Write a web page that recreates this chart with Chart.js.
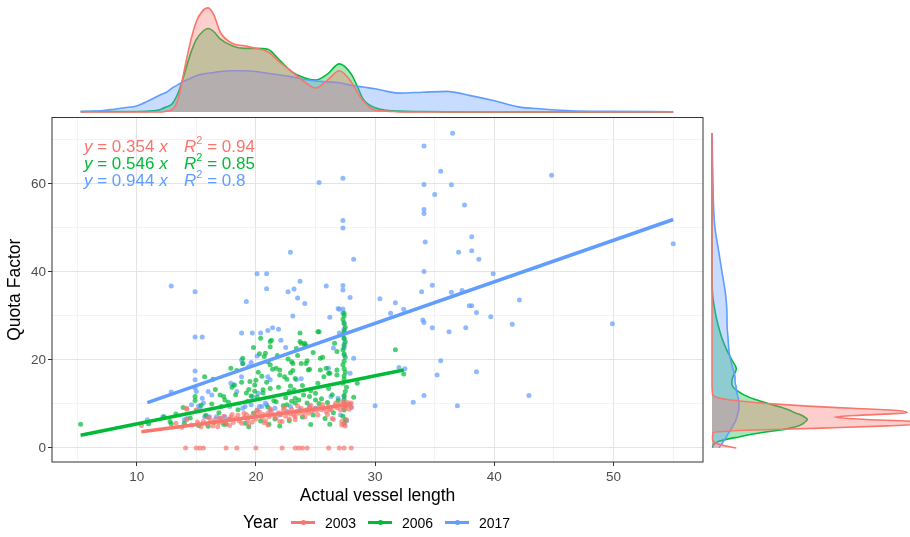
<!DOCTYPE html>
<html lang="en">
<head>
<meta charset="utf-8">
<title>Quota Factor by vessel length</title>
<script src="https://cdn.jsdelivr.net/npm/chart.js@4.4.1/dist/chart.umd.min.js"></script>
<style>
  html, body { margin: 0; padding: 0; background: #ffffff; }
  #wrap { position: relative; width: 910px; height: 537px; overflow: hidden;
          font-family: "Liberation Sans", Arial, Helvetica, sans-serif; }
  #wrap canvas { position: absolute; left: 0; top: 0; }
  .eq { position: absolute; left: 84px; height: 18px; line-height: 18px; font-size: 17px; white-space: nowrap; }
  .eq .r2 { position: absolute; left: 100px; top: 0; }
  .eq sup { font-size: 11px; line-height: 0; position: relative; top: -1px; }
  .leg { position: absolute; line-height: 20px; white-space: nowrap; color: #000; }
  .key { position: absolute; width: 24px; height: 3.5px; }
  .key span { position: absolute; left: 9.5px; top: -0.75px; width: 5px; height: 5px; border-radius: 50%; }
</style>
</head>
<body>
<div id="wrap">
  <canvas id="topDensity" width="910" height="537"></canvas>
  <canvas id="sideDensity" width="910" height="537"></canvas>
  <canvas id="scatter" width="910" height="537"></canvas>
</div>
<script>
// groups and fitted lines (through the origin)
const years = ['2003', '2006', '2017'];
const colours = ['#F8766D', '#00BA38', '#619CFF'];
const slopes = [0.354, 0.546, 0.944];
const rSquared = [0.94, 0.85, 0.8];

// axis breaks (labelled + minor)
const xLabelTicks = [10, 20, 30, 40, 50];
const xGridTicks = [5, 10, 15, 20, 25, 30, 35, 40, 45, 50, 55];
const yLabelTicks = [0, 20, 40, 60];
const yGridTicks = [0, 10, 20, 30, 40, 50, 60, 70];

// [actual vessel length, quota factor]
const points2003 = [
  [10.4, 5.1], [13.3, 5.6], [13.8, 4.7], [14.2, 6.4], [14.2, 8.8], [14.2, 9.0], [14.6, 5.2],
  [15.0, 8.5], [15.0, 8.6], [15.1, 5.9], [15.4, 4.8], [15.6, 6.0], [15.9, 5.4], [16.0, 6.9],
  [16.2, 6.3], [16.4, 5.0], [16.6, 6.6], [16.8, 4.8], [16.9, 5.7], [17.0, 6.8], [17.1, 6.1],
  [17.3, 7.2], [17.5, 5.5], [17.7, 6.4], [17.8, 5.1], [17.9, 7.0], [18.0, 7.6], [18.1, 5.8],
  [18.3, 6.7], [18.5, 7.4], [18.6, 6.1], [18.8, 5.6], [19.0, 6.9], [19.0, 7.9], [19.2, 7.6],
  [19.3, 6.3], [19.4, 5.3], [19.5, 7.1], [19.7, 5.9], [19.9, 7.8], [20.0, 6.6], [20.1, 8.5],
  [20.2, 7.3], [20.3, 8.2], [20.5, 6.9], [20.6, 7.6], [20.7, 5.7], [20.8, 6.2], [21.0, 7.9],
  [21.0, 5.2], [21.1, 7.1], [21.2, 8.9], [21.3, 8.4], [21.5, 7.4], [21.7, 6.8], [21.9, 8.0],
  [22.0, 6.0], [22.1, 7.6], [22.2, 6.0], [22.3, 8.6], [22.4, 9.2], [22.5, 7.2], [22.7, 8.1],
  [22.8, 6.6], [22.9, 7.7], [23.0, 8.8], [23.2, 7.4], [23.3, 7.1], [23.3, 6.4], [23.4, 8.3],
  [23.5, 9.5], [23.6, 7.9], [23.8, 9.0], [24.0, 8.0], [24.1, 7.0], [24.2, 8.6], [24.4, 7.9],
  [24.5, 9.1], [24.6, 9.7], [24.7, 8.3], [24.9, 8.9], [25.1, 8.5], [25.2, 7.5], [25.3, 9.3],
  [25.5, 8.7], [25.6, 9.8], [25.7, 9.0], [25.9, 8.2], [26.0, 7.6], [26.1, 9.4], [26.2, 8.6],
  [26.3, 8.8], [26.4, 6.7], [26.5, 6.5], [26.6, 9.6], [26.7, 10.2], [26.8, 9.1], [27.0, 9.8],
  [27.1, 8.6], [27.2, 6.0], [27.2, 5.2], [27.3, 9.4], [27.3, 10.5], [27.4, 10.1], [27.4, 5.4],
  [27.5, 9.0], [27.5, 5.0], [27.6, 9.7], [27.6, 6.4], [27.7, 10.3], [27.8, 8.8], [27.9, 9.9],
  [28.0, 10.2], [28.0, 9.3],
  [14.1, 0], [15.0, 0], [15.3, 0], [15.6, 0], [17.5, 0], [18.4, 0], [20.0, 0], [22.2, 0],
  [23.3, 0], [23.6, 0], [23.9, 0], [24.3, 0], [26.1, 0], [27.0, 0], [27.4, 0], [28.0, 0]
];

const points2006 = [
  [5.3, 5.4], [11.0, 5.5], [12.3, 7.1], [12.8, 6.0], [12.9, 5.5], [13.3, 7.7], [13.9, 9.2],
  [14.0, 5.6], [14.5, 6.8], [14.9, 11.7], [14.9, 10.8], [15.2, 5.1], [15.4, 9.7], [15.7, 16.2],
  [15.8, 7.4], [16.0, 4.9], [16.3, 10.0], [16.4, 15.6], [16.5, 5.8], [16.6, 13.3], [16.9, 8.0],
  [17.0, 12.0], [17.1, 9.4], [17.3, 11.7], [17.3, 5.4], [17.4, 10.9], [17.5, 5.4], [17.7, 10.4],
  [17.8, 6.5], [17.9, 18.1], [18.0, 13.8], [18.2, 14.3], [18.3, 12.1], [18.4, 17.6], [18.5, 8.7],
  [18.8, 14.9], [18.9, 20.4], [18.9, 19.2], [19.1, 5.6], [19.2, 12.5], [19.3, 10.6], [19.4, 13.3],
  [19.4, 4.8], [19.5, 15.1], [19.6, 11.8], [19.8, 7.9], [19.8, 22.8], [19.9, 12.9], [19.9, 14.3],
  [20.0, 15.4], [20.1, 11.6], [20.2, 17.2], [20.3, 21.4], [20.4, 6.1], [20.4, 24.9], [20.5, 16.3],
  [20.6, 12.5], [20.6, 13.2], [20.7, 20.8], [20.8, 21.5], [20.9, 14.9], [21.0, 19.6], [21.0, 9.3],
  [21.1, 5.4], [21.2, 18.9], [21.2, 13.5], [21.2, 23.0], [21.2, 24.2], [21.3, 24.5], [21.4, 17.9],
  [21.5, 10.7], [21.6, 6.6], [21.7, 18.1], [21.7, 10.5], [21.8, 21.0], [21.9, 13.8], [22.0, 17.7],
  [22.0, 16.6], [22.0, 5.0], [22.3, 9.6], [22.4, 16.2], [22.5, 11.4], [22.6, 15.6], [22.6, 9.8],
  [22.7, 20.2], [22.8, 12.9], [22.8, 6.2], [22.9, 17.1], [22.9, 14.1], [23.0, 10.6], [23.0, 19.6],
  [23.1, 17.6], [23.1, 19.2], [23.2, 13.2], [23.3, 15.8], [23.3, 10.2], [23.3, 11.3], [23.4, 22.6],
  [23.5, 21.0], [23.6, 10.9], [23.7, 26.1], [23.7, 24.2], [23.8, 19.2], [23.8, 23.8], [23.9, 14.2],
  [23.9, 7.0], [24.0, 12.0], [24.1, 23.8], [24.1, 23.4], [24.2, 23.2], [24.2, 19.2], [24.3, 19.8],
  [24.3, 10.2], [24.4, 17.7], [24.5, 17.9], [24.5, 11.7], [24.6, 13.0], [24.6, 5.3], [24.8, 21.7],
  [24.8, 7.5], [25.0, 12.4], [25.0, 10.9], [25.2, 26.4], [25.2, 14.7], [25.3, 26.4], [25.3, 10.1],
  [25.4, 17.7], [25.4, 20.4], [25.5, 11.2], [25.6, 20.6], [25.7, 16.2], [25.8, 6.7], [25.9, 18.1],
  [26.0, 10.3], [26.1, 13.5], [26.1, 17.0], [26.2, 17.0], [26.2, 5.4], [26.4, 12.1], [26.5, 8.0],
  [26.6, 23.8], [26.8, 21.9], [26.8, 17.7], [26.8, 16.6], [26.9, 10.8],
  [27.4, 30.6], [27.4, 30.0], [27.3, 29.2], [27.4, 28.2], [27.5, 27.4], [27.4, 26.6], [27.3, 25.7],
  [27.4, 24.9], [27.5, 24.1], [27.4, 23.2], [27.3, 22.3], [27.4, 21.4], [27.5, 20.6], [27.4, 19.7],
  [27.3, 18.9], [27.4, 18.0], [27.5, 17.2], [27.4, 16.4], [27.4, 15.6], [27.3, 14.7], [27.6, 13.8],
  [27.5, 12.8], [27.4, 11.9], [27.4, 11.0], [27.6, 9.8], [27.4, 8.6], [27.3, 7.2], [27.5, 6.4],
  [27.4, 5.5], [28.2, 11.5], [28.5, 14.7], [31.7, 22.3], [32.4, 16.8]
];

const points2017 = [
  [36.5, 71.5], [34.1, 68.6], [35.5, 62.9], [44.8, 62.0], [27.3, 61.3], [25.3, 60.3],
  [34.1, 59.9], [36.4, 59.8], [35.0, 57.6], [37.5, 55.2], [34.1, 54.2], [34.1, 53.3],
  [27.3, 51.7], [27.3, 50.0], [38.1, 48.0], [55.0, 46.4], [34.2, 46.8], [37.0, 44.5],
  [38.1, 44.8], [22.9, 44.5], [38.7, 42.9], [28.2, 42.9], [34.1, 40.1], [39.9, 39.6],
  [20.1, 39.6], [20.9, 39.6], [34.8, 37.0], [27.3, 36.9], [23.7, 37.9], [12.9, 36.8],
  [25.9, 36.8], [27.3, 35.9], [20.9, 36.2], [23.2, 36.1], [33.9, 35.5], [36.4, 35.4],
  [37.3, 35.8], [14.9, 35.5], [22.7, 35.5], [27.9, 34.2], [30.4, 33.9], [23.5, 34.1],
  [31.7, 33.0], [42.1, 33.6], [19.2, 33.3], [24.1, 32.8], [37.9, 32.3], [38.1, 32.3],
  [31.3, 30.6], [32.4, 31.5], [38.5, 30.8], [39.7, 29.8], [27.3, 31.6], [27.3, 30.6],
  [26.9, 31.7], [27.0, 31.5], [34.0, 29.1], [34.1, 28.5], [34.8, 27.3], [36.2, 26.4],
  [37.6, 27.3], [41.5, 28.1], [49.9, 28.2], [23.1, 30.0], [26.2, 29.7],
  [14.9, 25.2], [15.5, 25.2], [18.8, 26.1], [19.7, 26.1], [20.4, 26.1], [21.0, 26.7],
  [21.4, 27.3], [21.9, 27.0], [22.1, 24.5], [22.5, 22.8], [26.5, 22.7], [27.0, 26.1],
  [27.4, 26.1], [27.4, 23.6], [27.4, 22.7], [27.4, 21.1], [28.2, 20.4], [35.5, 19.8],
  [27.9, 17.0], [35.2, 16.6], [38.5, 17.3], [32.0, 18.3], [32.5, 18.0], [34.1, 11.9],
  [42.9, 11.9], [33.2, 10.4], [30.0, 9.6], [36.9, 9.6], [28.0, 9.2], [27.6, 6.1],
  [14.9, 17.5], [14.9, 15.5], [14.9, 13.6], [12.9, 12.7], [18.9, 19.2], [19.4, 18.5],
  [18.8, 20.0], [19.6, 19.4], [20.1, 20.9], [18.8, 16.2], [18.1, 14.3], [18.4, 12.8],
  [16.0, 12.8], [16.3, 12.0], [15.5, 11.3], [15.2, 9.5], [15.6, 10.2], [15.9, 7.1],
  [16.7, 7.1], [17.4, 7.1], [10.9, 6.4], [12.2, 7.1], [14.2, 6.7], [17.9, 14.7],
  [19.1, 9.4], [19.6, 9.8], [20.1, 8.6], [20.5, 9.4], [20.9, 9.8], [21.6, 9.0],
  [22.9, 9.4], [23.4, 15.5], [23.8, 15.7], [24.5, 9.4], [25.0, 9.0], [26.3, 11.7],
  [26.9, 11.3], [27.4, 11.7], [27.4, 10.2], [27.4, 9.4], [22.0, 7.5], [22.6, 8.3],
  [14.0, 6.4], [14.6, 9.8], [15.3, 9.0], [15.7, 7.1], [16.1, 7.1], [17.0, 6.7],
  [17.8, 9.4], [18.9, 9.0], [20.2, 12.4], [21.0, 16.2], [21.2, 15.5], [26.1, 18.1],
  [19.7, 11.7], [20.3, 9.4], [20.8, 10.2], [27.1, 7.5], [21.2, 8.6], [23.7, 8.6],
  [24.3, 8.6], [15.0, 12.8], [27.4, 28.5], [27.4, 27.0], [27.4, 24.8]
];

// marginal density of vessel length (top strip)
const lengthGrid = [5.3, 6, 7, 8, 9, 10, 11, 12, 12.5, 13, 13.5, 14, 14.5, 15, 15.5, 16, 16.5, 17,
  18, 19, 20, 21, 22, 23, 24, 25, 26, 27, 28, 28.5, 29, 30, 31, 32, 34, 36, 38, 40, 42, 44, 46, 48, 50, 55];
const lengthDensity2003 = [0, 0, 0, 0, 0, 0, 0, 0, 0.001, 0.003, 0.016, 0.049, 0.081, 0.105, 0.117, 0.121,
  0.112, 0.093, 0.080, 0.077, 0.074, 0.070, 0.058, 0.047, 0.036, 0.028, 0.037, 0.048, 0.035, 0.023, 0.013,
  0.002, 0.001, 0, 0, 0, 0, 0, 0, 0, 0, 0, 0, 0];
const lengthDensity2006 = [0.0004, 0.0005, 0.0006, 0.0006, 0.0006, 0.0006, 0.001, 0.003, 0.006, 0.010,
  0.023, 0.044, 0.067, 0.084, 0.093, 0.097, 0.093, 0.085, 0.077, 0.074, 0.074, 0.073, 0.060, 0.047, 0.040,
  0.037, 0.044, 0.056, 0.044, 0.030, 0.015, 0.005, 0.002, 0.001, 0.0005, 0.0002, 0, 0, 0, 0, 0, 0, 0, 0];
const lengthDensity2017 = [0.0006, 0.0009, 0.0014, 0.003, 0.005, 0.007, 0.013, 0.020, 0.023, 0.028, 0.032,
  0.036, 0.039, 0.042, 0.044, 0.045, 0.046, 0.047, 0.048, 0.048, 0.047, 0.045, 0.043, 0.041, 0.038, 0.036,
  0.035, 0.034, 0.031, 0.030, 0.029, 0.027, 0.024, 0.022, 0.023, 0.024, 0.019, 0.013, 0.006, 0.0035,
  0.0017, 0.0009, 0.0007, 0.0003];

// marginal density of quota factor (right strip)
const quotaGrid = [0, 0.5, 1, 1.5, 2, 2.5, 3, 3.5, 4, 4.5, 5, 5.5, 6, 6.5, 7, 7.5, 8, 8.5, 9, 9.5, 10,
  10.5, 11, 12, 13, 14, 15, 16, 18, 20, 22, 25, 28, 30, 35, 40, 45, 50, 55, 60, 65, 71.5];
const quotaDensity2003 = [0.027, 0.014, 0.0056, 0.0017, 0.0006, 0.0006, 0.0009, 0.0017, 0.039, 0.122,
  0.194, 0.233, 0.222, 0.167, 0.136, 0.172, 0.217, 0.206, 0.156, 0.106, 0.067, 0.039, 0.017, 0.001,
  0.0003, 0, 0, 0, 0, 0, 0, 0, 0, 0, 0, 0, 0, 0, 0, 0, 0, 0];
const quotaDensity2006 = [0.0006, 0.0011, 0.0033, 0.0078, 0.017, 0.030, 0.041, 0.056, 0.074, 0.087,
  0.096, 0.101, 0.104, 0.106, 0.103, 0.099, 0.092, 0.087, 0.080, 0.072, 0.064, 0.056, 0.048, 0.036,
  0.028, 0.023, 0.022, 0.023, 0.027, 0.022, 0.017, 0.011, 0.0067, 0.0044, 0.0006, 0, 0, 0, 0, 0, 0, 0];
const quotaDensity2017 = [0.0078, 0.0094, 0.011, 0.0128, 0.0144, 0.016, 0.0172, 0.0189, 0.0206, 0.022,
  0.0233, 0.0246, 0.0261, 0.0267, 0.0278, 0.0283, 0.0289, 0.0295, 0.030, 0.030, 0.030, 0.0297, 0.0294,
  0.0283, 0.0272, 0.0267, 0.0256, 0.0256, 0.0233, 0.0206, 0.0189, 0.0178, 0.0167, 0.0167, 0.015, 0.0111,
  0.0072, 0.0033, 0.0017, 0.0011, 0.0006, 0.0002];

Chart.defaults.font.family = '"Liberation Sans", Arial, Helvetica, sans-serif';

const groups = [points2003, points2006, points2017];
const lengthDensity = [lengthDensity2003, lengthDensity2006, lengthDensity2017];
const quotaDensity = [quotaDensity2003, quotaDensity2006, quotaDensity2017];

const X_MIN = 2.9, X_MAX = 57.5;
const Y_MIN = -3.2, Y_MAX = 75.1;
const axisGrey = '#4D4D4D';
const noPlugins = { legend: { display: false }, tooltip: { enabled: false } };

// grey panel frame on all four sides, like theme_bw
const panelBorder = {
  id: 'panelBorder',
  afterDraw(chart) {
    const { ctx, chartArea: a } = chart;
    ctx.save();
    ctx.strokeStyle = '#333333';
    ctx.lineWidth = 1;
    ctx.strokeRect(a.left, a.top, a.right - a.left, a.bottom - a.top);
    ctx.restore();
  }
};

function gridOptions(labelled) {
  return {
    color: (c) => labelled.includes(c.tick.value) ? '#E4E4E4' : '#EEEEEE',
    lineWidth: (c) => labelled.includes(c.tick.value) ? 1 : 0.7,
    tickColor: (c) => labelled.includes(c.tick.value) ? '#333333' : 'rgba(0,0,0,0)',
    tickLength: 4,
    tickWidth: 1
  };
}

// points: 2017 at the bottom, 2003 on top
const pointSets = groups.map((pts, i) => ({
  label: years[i],
  data: pts.map(p => ({ x: p[0], y: p[1] })),
  backgroundColor: colours[i] + 'B3',
  borderWidth: 0,
  pointRadius: 2.5,
  order: 1 + i
}));

// fitted lines y = b x over each year's length range
const fitSets = groups.map((pts, i) => {
  const xs = pts.map(p => p[0]);
  const lo = Math.min(...xs), hi = Math.max(...xs);
  return {
    label: years[i] + ' fit',
    data: [{ x: lo, y: slopes[i] * lo }, { x: hi, y: slopes[i] * hi }],
    showLine: true,
    borderColor: colours[i],
    borderWidth: 3.5,
    pointRadius: 0,
    order: -i
  };
});

new Chart(document.getElementById('scatter'), {
  type: 'scatter',
  data: { datasets: [...fitSets, ...pointSets] },
  options: {
    responsive: false,
    animation: false,
    events: [],
    layout: { padding: { top: 117.5, right: 207, bottom: 0, left: 0 } },
    plugins: noPlugins,
    scales: {
      x: {
        type: 'linear', min: X_MIN, max: X_MAX,
        afterBuildTicks: (axis) => { axis.ticks = xGridTicks.map(v => ({ value: v })); },
        afterFit: (axis) => { axis.height = 75; },
        ticks: {
          callback: (v) => xLabelTicks.includes(v) ? String(v) : '',
          color: axisGrey, font: { size: 13.5 }, padding: 3, maxRotation: 0, autoSkip: false
        },
        grid: gridOptions(xLabelTicks),
        border: { display: false },
        title: {
          display: true, text: 'Actual vessel length', color: '#000000',
          font: { size: 17.5 }, padding: { top: 0, bottom: 30.5 }
        }
      },
      y: {
        type: 'linear', min: Y_MIN, max: Y_MAX,
        afterBuildTicks: (axis) => { axis.ticks = yGridTicks.map(v => ({ value: v })); },
        afterFit: (axis) => { axis.width = 52; },
        ticks: {
          callback: (v) => yLabelTicks.includes(v) ? String(v) : '',
          color: axisGrey, font: { size: 13.5 }, padding: 2, autoSkip: false
        },
        grid: gridOptions(yLabelTicks),
        border: { display: false },
        title: {
          display: true, text: 'Quota Factor', color: '#000000',
          font: { size: 17.5 }, padding: { top: 4.5, bottom: 0 }
        }
      }
    }
  },
  plugins: [panelBorder]
});

// density layers: 2006 underneath, then 2017, 2003 on top
const densityOrder = [1, 3, 2];

function densitySet(i, data) {
  return {
    label: years[i],
    data,
    borderColor: colours[i],
    backgroundColor: colours[i] + '59',
    borderWidth: 1.6,
    fill: 'origin',
    pointRadius: 0,
    cubicInterpolationMode: 'monotone',
    clip: false,
    order: densityOrder[i]
  };
}

// top strip: length densities share the scatter's x range
new Chart(document.getElementById('topDensity'), {
  type: 'line',
  data: {
    datasets: years.map((yr, i) =>
      densitySet(i, lengthGrid.map((x, j) => ({ x, y: lengthDensity[i][j] }))))
  },
  options: {
    responsive: false,
    animation: false,
    events: [],
    layout: { padding: { top: 0, right: 207, bottom: 425, left: 52 } },
    plugins: noPlugins,
    scales: {
      x: { type: 'linear', display: false, min: X_MIN, max: X_MAX },
      y: { type: 'linear', display: false, min: 0, max: 0.1302 }
    }
  }
});

// right strip: quota densities share the scatter's y range
new Chart(document.getElementById('sideDensity'), {
  type: 'line',
  data: {
    datasets: years.map((yr, i) =>
      densitySet(i, quotaGrid.map((q, j) => ({ x: quotaDensity[i][j], y: q }))))
  },
  options: {
    indexAxis: 'y',
    responsive: false,
    animation: false,
    events: [],
    layout: { padding: { top: 117.5, right: 0, bottom: 75, left: 712 } },
    plugins: noPlugins,
    scales: {
      x: { type: 'linear', display: false, min: 0, max: 0.22 },
      y: { type: 'linear', display: false, min: Y_MIN, max: Y_MAX }
    }
  }
});

// equation labels
const wrap = document.getElementById('wrap');
years.forEach((yr, i) => {
  const row = document.createElement('div');
  row.className = 'eq';
  row.style.top = (138 + 17 * i) + 'px';
  row.style.color = colours[i];
  row.innerHTML = '<span><i>y</i> = ' + slopes[i].toFixed(3) + ' <i>x</i></span>' +
    '<span class="r2"><i>R</i><sup>2</sup> = ' + rSquared[i] + '</span>';
  wrap.appendChild(row);
});

// legend along the bottom
const title = document.createElement('div');
title.className = 'leg';
title.style.cssText = 'left:243px;top:512px;font-size:17.5px;';
title.textContent = 'Year';
wrap.appendChild(title);
years.forEach((yr, i) => {
  const left = 291 + 77 * i;
  const key = document.createElement('div');
  key.className = 'key';
  key.style.cssText = 'left:' + left + 'px;top:520.5px;background:' + colours[i] + ';';
  const dot = document.createElement('span');
  dot.style.background = colours[i];
  key.appendChild(dot);
  wrap.appendChild(key);
  const label = document.createElement('div');
  label.className = 'leg';
  label.style.cssText = 'left:' + (left + 34) + 'px;top:512.5px;font-size:14px;';
  label.textContent = yr;
  wrap.appendChild(label);
});
</script>
</body>
</html>
